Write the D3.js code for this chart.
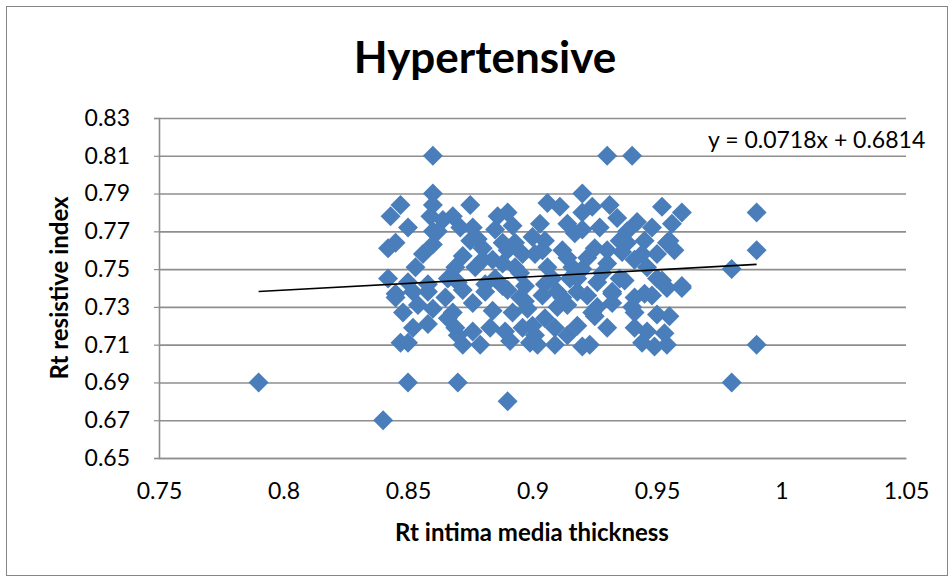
<!DOCTYPE html>
<html>
<head>
<meta charset="utf-8">
<script src="https://cdn.jsdelivr.net/npm/d3@7"></script>
<style>
  html, body { margin: 0; padding: 0; background: #fff; }
  svg text { font-family: Lato, "Open Sans", sans-serif; fill: #000; }
</style>
</head>
<body>
<svg id="chart" width="951" height="578"></svg>
<script>
// Rt intima media thickness (x) vs Rt resistive index (y), hypertensive group
const imt = [
  0.79, 0.84, 0.85, 0.87, 0.89, 0.86, 0.93, 0.94, 0.98, 0.99, 0.99, 0.99, 0.98, 0.86, 0.92,
  0.847, 0.843, 0.850, 0.860, 0.859, 0.864, 0.868, 0.875, 0.876, 0.871, 0.842, 0.845, 0.860, 0.853, 0.842,
  0.872, 0.869, 0.880, 0.877, 0.886, 0.890, 0.892, 0.885, 0.888, 0.893, 0.896, 0.888, 0.893, 0.900, 0.901,
  0.845, 0.850, 0.858, 0.870, 0.881, 0.888, 0.897,
  0.906, 0.911, 0.903, 0.914, 0.920, 0.924, 0.931, 0.934, 0.927, 0.920, 0.917, 0.942, 0.948, 0.952, 0.960, 0.956,
  0.904, 0.914, 0.925, 0.922, 0.938, 0.936, 0.941, 0.954, 0.957, 0.950, 0.906, 0.916, 0.930, 0.946,
  0.905, 0.926, 0.937, 0.952, 0.960, 0.932, 0.945,
  0.845, 0.852, 0.858, 0.872, 0.881, 0.890, 0.854, 0.860, 0.868, 0.876, 0.884, 0.892, 0.898,
  0.852, 0.858, 0.866, 0.869, 0.876, 0.883, 0.889, 0.896, 0.901, 0.847, 0.850, 0.872, 0.879, 0.891, 0.899,
  0.904, 0.910, 0.922, 0.932, 0.941, 0.948, 0.954, 0.960, 0.914, 0.924, 0.932, 0.941, 0.950,
  0.905, 0.909, 0.918, 0.930, 0.941, 0.902, 0.909, 0.914, 0.920, 0.923, 0.944, 0.949, 0.954, 0.946, 0.953,
  0.862, 0.866, 0.878, 0.884, 0.895, 0.908, 0.912, 0.918, 0.928, 0.935, 0.944, 0.955, 0.897, 0.910, 0.926,
  0.865, 0.875, 0.885, 0.895, 0.905, 0.915, 0.925, 0.935, 0.945, 0.955, 0.900, 0.912, 0.930, 0.940,
  0.870, 0.880, 0.890, 0.920, 0.950, 0.860, 0.848, 0.856, 0.918, 0.938
];
const ri = [
  0.69, 0.67, 0.69, 0.69, 0.68, 0.81, 0.81, 0.81, 0.75, 0.76, 0.78, 0.71, 0.69, 0.79, 0.79,
  0.784, 0.778, 0.772, 0.784, 0.778, 0.776, 0.778, 0.784, 0.772, 0.772, 0.761, 0.764, 0.763, 0.751, 0.745,
  0.757, 0.751, 0.761, 0.751, 0.778, 0.780, 0.773, 0.771, 0.764, 0.764, 0.758, 0.753, 0.751, 0.767, 0.758,
  0.737, 0.743, 0.742, 0.743, 0.742, 0.741, 0.741,
  0.785, 0.783, 0.774, 0.774, 0.780, 0.783, 0.784, 0.777, 0.772, 0.771, 0.769, 0.775, 0.772, 0.783, 0.780, 0.774,
  0.760, 0.756, 0.761, 0.756, 0.764, 0.759, 0.755, 0.764, 0.760, 0.758, 0.751, 0.751, 0.753, 0.751,
  0.742, 0.743, 0.744, 0.744, 0.741, 0.737, 0.737,
  0.735, 0.738, 0.738, 0.739, 0.738, 0.739, 0.731, 0.729, 0.727, 0.732, 0.728, 0.727, 0.729,
  0.719, 0.721, 0.724, 0.719, 0.717, 0.719, 0.717, 0.719, 0.715, 0.711, 0.711, 0.710, 0.710, 0.712, 0.711,
  0.736, 0.738, 0.736, 0.738, 0.735, 0.736, 0.740, 0.740, 0.731, 0.727, 0.732, 0.727, 0.726,
  0.724, 0.719, 0.720, 0.719, 0.719, 0.710, 0.710, 0.715, 0.709, 0.710, 0.711, 0.709, 0.710, 0.717, 0.716,
  0.770, 0.745, 0.766, 0.755, 0.748, 0.745, 0.735, 0.745, 0.748, 0.765, 0.758, 0.765, 0.733, 0.730, 0.730,
  0.735, 0.765, 0.745, 0.735, 0.765, 0.745, 0.725, 0.745, 0.765, 0.725, 0.720, 0.760, 0.760, 0.730,
  0.715, 0.755, 0.760, 0.750, 0.745, 0.770, 0.727, 0.758, 0.738, 0.770
];
const xTicks = [0.75, 0.8, 0.85, 0.9, 0.95, 1, 1.05];
const yTicks = [0.65, 0.67, 0.69, 0.71, 0.73, 0.75, 0.77, 0.79, 0.81, 0.83];
const slope = 0.0718, intercept = 0.6814;
const fitRange = [0.79, 0.99];

const svg = d3.select("#chart");
const W = 951, H = 578;
const plot = { left: 159, right: 906, top: 118, bottom: 458 };

// outer chart frame
svg.append("rect")
  .attr("x", 6.5).attr("y", 6.5).attr("width", W - 10).attr("height", H - 9)
  .attr("fill", "#fff").attr("stroke", "#868686").attr("stroke-width", 1);

const x = d3.scaleLinear().domain([0.75, 1.05]).range([plot.left, plot.right]);
const y = d3.scaleLinear().domain([0.65, 0.83]).range([plot.bottom, plot.top]);

// horizontal gridlines
svg.append("g")
  .attr("transform", `translate(${plot.left},0)`)
  .call(d3.axisLeft(y).tickValues(yTicks).tickSize(-(plot.right - plot.left)).tickFormat(""))
  .call(g => g.select(".domain").remove())
  .call(g => g.selectAll(".tick line").attr("stroke", "#8e8e8e").attr("stroke-width", 1.6));

// y axis line with tick labels
const yAxis = svg.append("g")
  .attr("transform", `translate(${plot.left},0)`)
  .call(d3.axisLeft(y).tickValues(yTicks).tickSize(5).tickFormat(d3.format(".2f")));
yAxis.select(".domain").attr("stroke", "#8e8e8e").attr("stroke-width", 1.6);
yAxis.selectAll(".tick line").attr("stroke", "#8e8e8e").attr("stroke-width", 1.2);
yAxis.selectAll(".tick text").attr("x", -29).attr("font-size", 23);

// x axis with tick labels
const xAxis = svg.append("g")
  .attr("transform", `translate(0,${plot.bottom})`)
  .call(d3.axisBottom(x).tickValues(xTicks).tickSize(0).tickFormat(d => String(+d.toFixed(2))));
xAxis.select(".domain").attr("stroke", "#8e8e8e").attr("stroke-width", 1.6);
xAxis.selectAll(".tick text").attr("y", 25).attr("font-size", 23);

// data markers (diamonds)
const diamond = d3.symbol().type(d3.symbolSquare).size(200);
svg.append("g").selectAll("path")
  .data(imt.map((v, i) => [v, ri[i]]))
  .join("path")
  .attr("d", diamond)
  .attr("transform", d => `translate(${x(d[0])},${y(d[1])}) rotate(45)`)
  .attr("fill", "#4a7ebb");

// linear trendline
const line = d3.line().x(d => x(d)).y(d => y(slope * d + intercept));
svg.append("path")
  .attr("d", line(fitRange))
  .attr("fill", "none").attr("stroke", "#000").attr("stroke-width", 1.6);

// trendline equation
svg.append("text")
  .attr("x", 708).attr("y", 148)
  .attr("font-size", 23)
  .text(`y = ${slope}x + ${intercept}`);

// titles
svg.append("text")
  .attr("x", 485).attr("y", 73)
  .attr("text-anchor", "middle")
  .attr("font-size", 44).attr("font-weight", "bold")
  .text("Hypertensive");

svg.append("text")
  .attr("x", 532).attr("y", 541)
  .attr("text-anchor", "middle")
  .attr("font-size", 24).attr("font-weight", "bold")
  .text("Rt intima media thickness");

svg.append("text")
  .attr("transform", "translate(68,288) rotate(-90)")
  .attr("text-anchor", "middle")
  .attr("font-size", 24).attr("font-weight", "bold")
  .text("Rt resistive index");
</script>
</body>
</html>
